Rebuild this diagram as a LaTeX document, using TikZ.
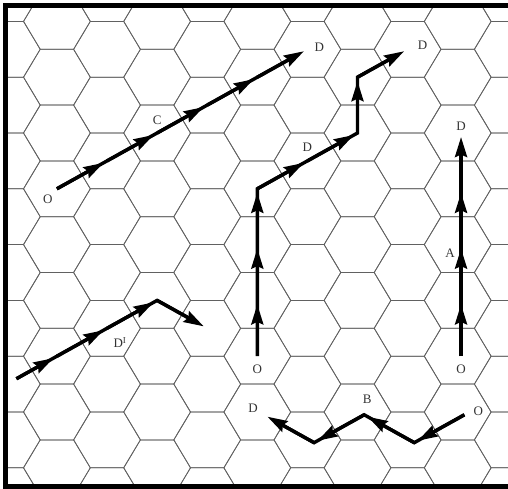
\documentclass[tikz,border=0pt]{standalone}
\usepackage{fontspec}
\setmainfont{Liberation Serif}
\usetikzlibrary{arrows.meta}

\begin{document}
\begin{tikzpicture}[x=33.4pt,y=-27.9pt,
    every node/.style={font=\fontsize{13}{14}\selectfont,text=black!80,inner sep=0pt},
    cell/.style={draw=black!62,line width=0.75pt},
    track/.style={line width=3.4pt},
    hop/.style={line width=3.4pt,shorten >=4pt,-{Stealth[length=20pt,width=12pt,inset=2.5pt]}},
    frame/.style={line width=5pt}]
  \useasboundingbox (-1.704,-0.767) rectangle (13.506,16.760);
  % hexagonal cells (columns 1.5 apart, rows 2 apart), clipped to the frame
  \begin{scope}
    \clip (-1.53,-0.56) rectangle (13.6,16.67);
    \foreach \c in {-1,...,9}
      \foreach \k in {-1,...,9} {
        \pgfmathtruncatemacro\r{2*\k+mod(\c,2)}
        \draw[cell] (1.5*\c,\r) +(1,0) -- +(.5,1) -- +(-.5,1) -- +(-1,0)
          -- +(-.5,-1) -- +(.5,-1) -- cycle;
      }
  \end{scope}
  \draw[frame] (13.6,-0.56) -- (-1.53,-0.56) -- (-1.53,16.67) -- (13.6,16.67);

  % cell centres on the routes
  \coordinate (cO) at (0,6);    \coordinate (c1) at (1.5,5);  \coordinate (c2) at (3,4);
  \coordinate (c3) at (4.5,3);  \coordinate (c4) at (6,2);    \coordinate (cD) at (7.5,1);
  \coordinate (eO) at (6,12);   \coordinate (e1) at (6,10);   \coordinate (e2) at (6,8);
  \coordinate (e3) at (6,6);    \coordinate (e4) at (7.5,5);  \coordinate (e5) at (9,4);
  \coordinate (e6) at (9,2);    \coordinate (eD) at (10.5,1);
  \coordinate (aO) at (12.1,12);  \coordinate (a1) at (12.1,10);  \coordinate (a2) at (12.1,8);
  \coordinate (a3) at (12.1,6);   \coordinate (aD) at (12.1,4);
  \coordinate (bO) at (12.2,14.1); \coordinate (b1) at (10.7,15.1); \coordinate (b2) at (9.2,14.1);
  \coordinate (b3) at (7.7,15.1);  \coordinate (bD) at (6.2,14.1);
  \coordinate (p0) at (-1.5,13); \coordinate (p1) at (0,12);  \coordinate (p2) at (1.5,11);
  \coordinate (p3) at (3,10);   \coordinate (pD) at (4.5,11);

  % routes: one line, one arrow per hop
  \draw[track,shorten >=15pt] (cO) -- (c1) -- (c2) -- (c3) -- (c4) -- (cD);
  \draw[track,shorten >=15pt] (eO) -- (e1) -- (e2) -- (e3) -- (e4) -- (e5) -- (e6) -- (eD);
  \draw[track,shorten >=15pt] (aO) -- (a1) -- (a2) -- (a3) -- (aD);
  \draw[track,shorten >=15pt] (bO) -- (b1) -- (b2) -- (b3) -- (bD);
  \draw[track,shorten <=11pt,shorten >=15pt] (p0) -- (p1) -- (p2) -- (p3) -- (pD);
  \foreach \a/\b in {cO/c1,c1/c2,c2/c3,c3/c4,c4/cD,
                     eO/e1,e1/e2,e2/e3,e3/e4,e4/e5,e5/e6,e6/eD,
                     aO/a1,a1/a2,a2/a3,a3/aD,
                     bO/b1,b1/b2,b2/b3,b3/bD,
                     p1/p2,p2/p3,p3/pD}
    \draw[hop] (\a) -- (\b);
  \draw[hop,shorten <=11pt] (p0) -- (p1);

  % labels
  \node (lcO) at ([xshift=-9pt,yshift=-10pt]cO) {O};
  \node (lcD) at ([xshift=12pt,yshift=2pt]cD) {D};
  \node (lc)  at ([yshift=13pt]c2) {C};
  \node (leO) at ([yshift=-13pt]eO) {O};
  \node (le4) at ([yshift=14pt]e4) {D};
  \node (leD) at ([xshift=15pt,yshift=4pt]eD) {D};
  \node (laO) at ([yshift=-13pt]aO) {O};
  \node (la)  at ([xshift=-11pt,yshift=-9pt]a2) {A};
  \node (laD) at ([yshift=7pt]aD) {D};
  \node (lbO) at ([xshift=14pt,yshift=4pt]bO) {O};
  \node (lb)  at ([xshift=3pt,yshift=16pt]b2) {B};
  \node (lbD) at ([xshift=-11pt,yshift=7pt]bD) {D};
  \node (lp)  at ([xshift=13pt,yshift=-14pt]p2) {D\textsuperscript{I}};
\end{tikzpicture}
\end{document}
